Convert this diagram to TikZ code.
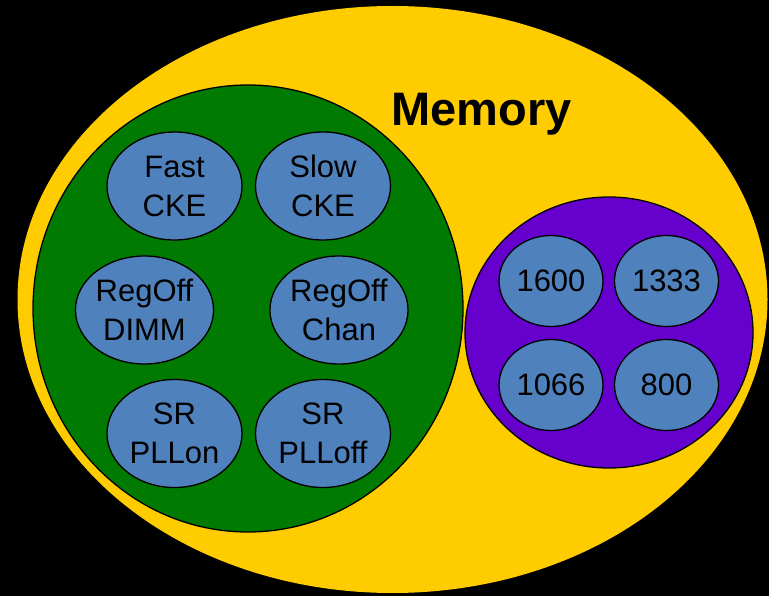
\documentclass[tikz,border=0pt]{standalone}
\usepackage{fontspec}
\setmainfont{Liberation Sans}
\usetikzlibrary{shapes.geometric}
\definecolor{memyellow}{HTML}{FFCC00}
\definecolor{modegreen}{HTML}{007A00}
\definecolor{speedpurple}{HTML}{6600CC}
\definecolor{itemblue}{HTML}{4F81BD}
\tikzset{
  x=1pt, y=-1pt,
  region/.style={ellipse, draw=black, line width=1.3pt, inner sep=0pt},
  item/.style={ellipse, draw=black, line width=1.3pt, fill=itemblue, inner sep=0pt,
    minimum width=135pt, minimum height=108pt, align=center,
    font=\fontsize{31}{39}\selectfont},
  speed/.style={item, minimum width=104pt, minimum height=91pt,
    font=\fontsize{31}{36}\selectfont},
}
\begin{document}
\begin{tikzpicture}
  % canvas
  \fill[black] (0,0) rectangle (769,596);
  \useasboundingbox (0,0) rectangle (769,596);

  % outer memory region
  \node[ellipse, fill=memyellow, inner sep=0pt, minimum width=750pt, minimum height=587pt]
    (memory) at (392.5,299.5) {};
  \node[font=\bfseries\fontsize{47}{47}\selectfont, anchor=base west] (title) at (388,126) {Memory};

  % power-mode group
  \node[region, fill=modegreen, minimum width=430pt, minimum height=447pt] (modes) at (248,308.5) {};
  \node[item] (fastcke) at (174.5,186) {Fast\\CKE};
  \node[item] (slowcke) at (323,186) {Slow\\CKE};
  \node[item] (regdimm) at (144.5,310) {RegOff\\DIMM};
  \node[item] (regchan) at (339,310) {RegOff\\Chan};
  \node[item] (srpllon) at (174.5,433.5) {SR\\PLLon};
  \node[item] (srplloff) at (323,433.5) {SR\\PLLoff};

  % speed-grade group
  \node[region, fill=speedpurple, minimum width=288pt, minimum height=271pt] (speeds) at (609,332.5) {};
  \node[speed] (s1600) at (551,281) {1600};
  \node[speed] (s1333) at (666.5,281) {1333};
  \node[speed] (s1066) at (551,385) {1066};
  \node[speed] (s800) at (666.5,385) {800};
\end{tikzpicture}
\end{document}
